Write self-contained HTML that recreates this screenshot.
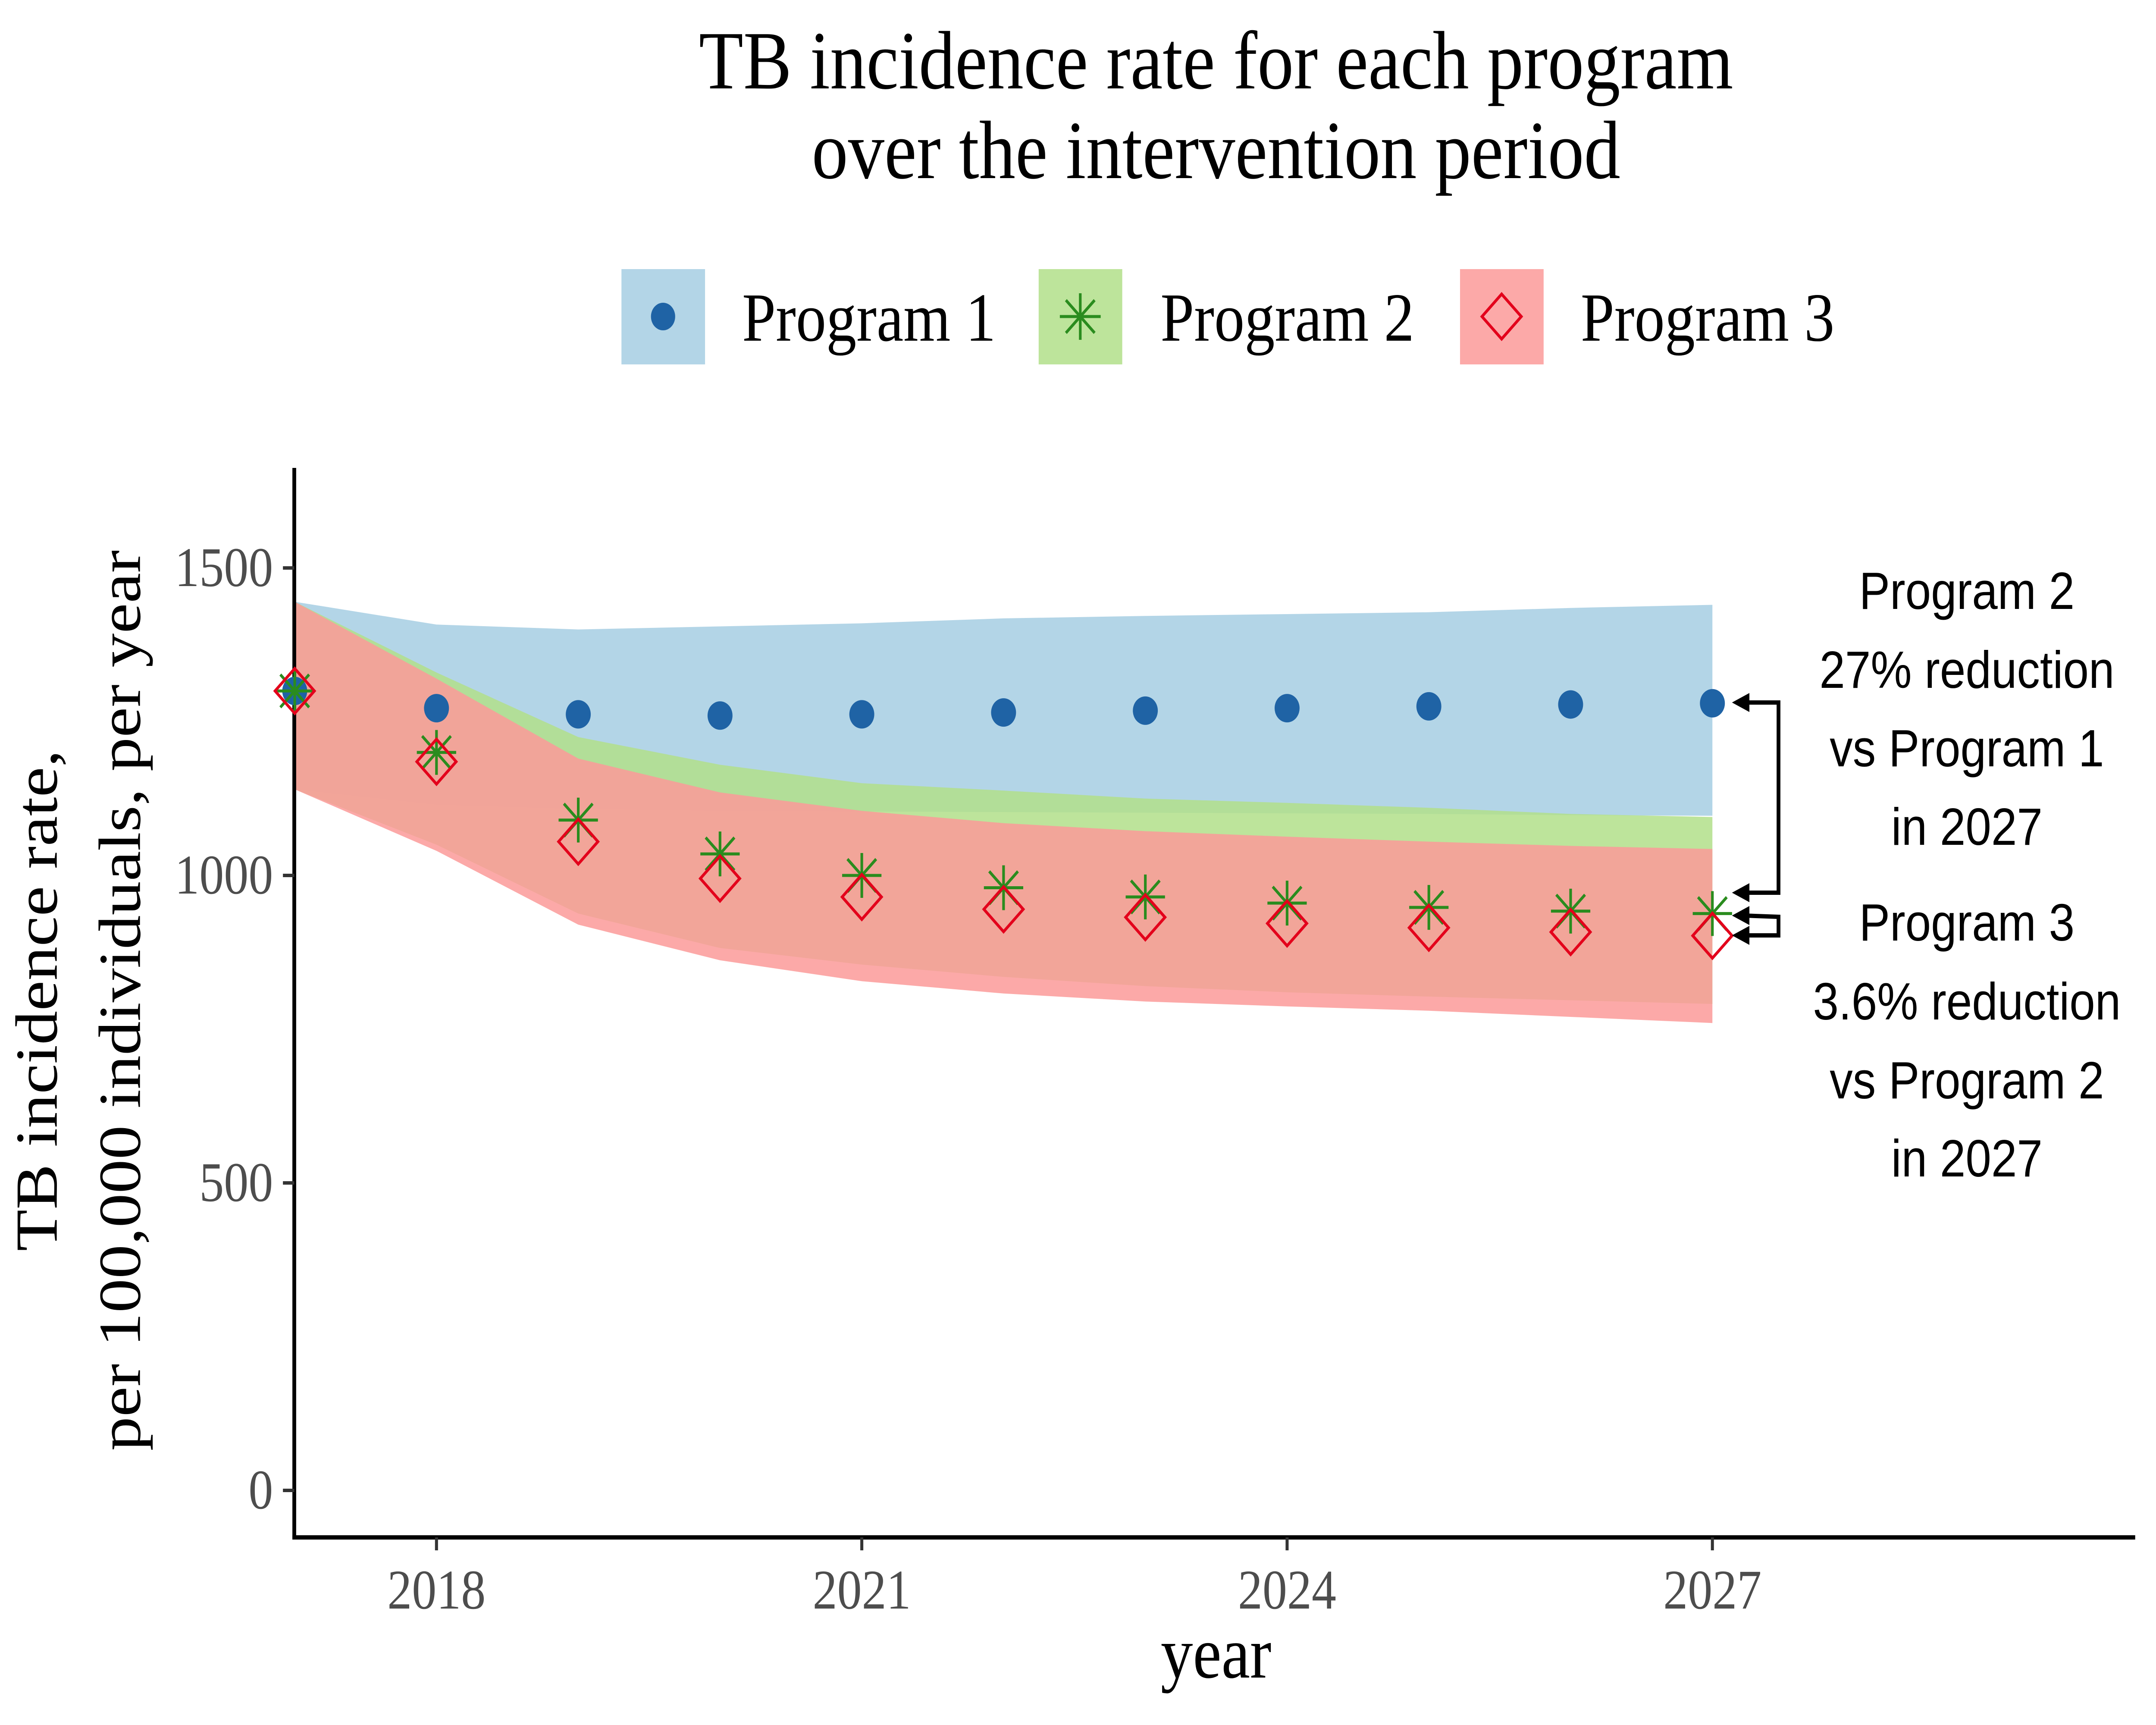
<!DOCTYPE html>
<html><head><meta charset="utf-8"><style>html,body{margin:0;padding:0;background:#fff;overflow:hidden;width:100%;height:100%}svg{display:block;width:100vw;height:100vh}</style></head>
<body>
<svg id="chart" viewBox="0 0 5700 4000" preserveAspectRatio="none" xmlns="http://www.w3.org/2000/svg">
<rect width="5700" height="4000" fill="#fff"/>
<g font-family="Liberation Serif, serif" font-size="192" text-anchor="middle" fill="#000">
<text x="3215" y="205">TB incidence rate for each program</text>
<text x="3215" y="413">over the intervention period</text>
</g>
<g font-family="Liberation Serif, serif" font-size="160" fill="#000">
<g>
<rect x="1640" y="621" width="227" height="227" fill="#a6cee3" fill-opacity="0.85" stroke="#fff" stroke-width="6"/>
<circle cx="1753" cy="734" r="32" fill="#1f63a5"/>
<text x="1962" y="790">Program 1</text></g>
<g>
<rect x="2743" y="621" width="227" height="227" fill="#b2df8a" fill-opacity="0.85" stroke="#fff" stroke-width="6"/>
<g stroke="#2a8c1e" stroke-width="7"><line x1="2856" y1="680" x2="2856" y2="788"/><line x1="2802" y1="734" x2="2910" y2="734"/><line x1="2818" y1="696" x2="2894" y2="772"/><line x1="2818" y1="772" x2="2894" y2="696"/></g>
<text x="3068" y="790">Program 2</text></g>
<g>
<rect x="3857" y="621" width="227" height="227" fill="#fb9a99" fill-opacity="0.85" stroke="#fff" stroke-width="6"/>
<polygon points="3970,682 4022,734 3970,786 3918,734" fill="none" stroke="#e3001b" stroke-width="7"/>
<text x="4179" y="790">Program 3</text></g>
</g>
<g id="plot"></g>
<g font-family="Liberation Sans, sans-serif" font-size="122" text-anchor="middle" fill="#000">
<g>
<text x="5200" y="1412">Program 2</text><text x="5200" y="1595">27% reduction</text><text x="5200" y="1777">vs Program 1</text><text x="5200" y="1959">in 2027</text></g>
<g>
<text x="5200" y="2181">Program 3</text><text x="5200" y="2364">3.6% reduction</text><text x="5200" y="2547">vs Program 2</text><text x="5200" y="2728">in 2027</text></g>
</g>
<g stroke="#000" stroke-width="10" fill="none">
<polyline points="4610,1629 4702,1629 4702,2070 4610,2070"/>
<polyline points="4610,2123 4702,2126 4702,2169 4610,2169"/>
<g fill="#000" stroke="none">
<polygon points="4579,1629 4625,1607 4625,1651"/><polygon points="4579,2070 4625,2048 4625,2092"/>
<polygon points="4579,2123 4625,2101 4625,2145"/><polygon points="4579,2169 4625,2147 4625,2191"/>
</g></g>
<g font-family="Liberation Serif, serif" font-size="158" text-anchor="middle" fill="#000">
<text transform="translate(150,2320) rotate(-90)">TB incidence rate,</text>
<text transform="translate(370,2320) rotate(-90)">per 100,000 individuals, per year</text>
</g>
<text x="3215" y="3890" font-family="Liberation Serif, serif" font-size="170" text-anchor="middle">year</text>
</svg>
<script>
const years=[2017,2018,2019,2020,2021,2022,2023,2024,2025,2026,2027];
const p1=[1300,1272,1262,1260,1262,1265,1268,1272,1275,1278,1280];
const p1Hi=[1445,1408,1400,1405,1410,1418,1422,1425,1428,1435,1440];
const p1Lo=[1140,1115,1108,1105,1104,1103,1102,1101,1100,1098,1097];
const p2=[1300,1200,1090,1035,1000,980,965,955,948,942,938];
const p2Hi=[1445,1330,1225,1180,1150,1138,1125,1118,1110,1100,1095];
const p2Lo=[1140,1050,938,882,855,835,820,810,803,797,791];
const p3=[1300,1185,1055,995,965,945,932,922,915,908,902];
const p3Hi=[1445,1320,1190,1135,1105,1085,1072,1063,1055,1048,1043];
const p3Lo=[1140,1040,920,862,828,808,795,787,780,770,760];
const yTicks=[0,500,1000,1500];
const xTicks=[2018,2021,2024,2027];
const NS="http://www.w3.org/2000/svg";
const X=v=>1154+(v-2018)*374.8;
const Y=v=>3456-v*1.426;
const plot=document.getElementById('plot');
function mk(t,a,parent){const e=document.createElementNS(NS,t);for(const k in a)e.setAttribute(k,a[k]);(parent||plot).appendChild(e);return e;}
function band(hi,lo,color,name){
 let pts=years.map((y,i)=>X(y)+','+Y(hi[i]));
 for(let i=years.length-1;i>=0;i--)pts.push(X(years[i])+','+Y(lo[i]));
 const p=mk('polygon',{points:pts.join(' '),fill:color,'fill-opacity':0.85});
 
 
}
band(p1Hi,p1Lo,'#a6cee3','program-1-band');
band(p2Hi,p2Lo,'#b2df8a','program-2-band');
band(p3Hi,p3Lo,'#fb9a99','program-3-band');
const ax=mk('g',{stroke:'#000','stroke-width':10});


mk('line',{x1:778,y1:1085,x2:778,y2:3570},ax);
mk('line',{x1:773,y1:3565,x2:5645,y2:3565},ax);
yTicks.forEach(v=>{
 const t=mk('line',{x1:748,y1:Y(v),x2:778,y2:Y(v),stroke:'#333','stroke-width':8});
 
 
 const l=mk('text',{x:722,y:Y(v)+42,'text-anchor':'end','font-family':'Liberation Serif, serif','font-size':130,fill:'#4d4d4d'});
 l.textContent=v;
 
 
});
xTicks.forEach(v=>{
 const t=mk('line',{x1:X(v),y1:3565,x2:X(v),y2:3595,stroke:'#333','stroke-width':8});
 
 
 const l=mk('text',{x:X(v),y:3730,'text-anchor':'middle','font-family':'Liberation Serif, serif','font-size':130,fill:'#4d4d4d'});
 l.textContent=v;
 
 
});
years.forEach((y,i)=>{
 const c=mk('circle',{cx:X(y),cy:Y(p1[i]),r:33,fill:'#1f63a5'});
 
 
});
years.forEach((y,i)=>{
 const x=X(y),yy=Y(p2[i]),s=52,d=38;
 const g=mk('g',{stroke:'#2a8c1e','stroke-width':7});
 
 
 mk('line',{x1:x,y1:yy-s,x2:x,y2:yy+s},g);
 mk('line',{x1:x-s,y1:yy,x2:x+s,y2:yy},g);
 mk('line',{x1:x-d,y1:yy-d,x2:x+d,y2:yy+d},g);
 mk('line',{x1:x-d,y1:yy+d,x2:x+d,y2:yy-d},g);
});
years.forEach((y,i)=>{
 const x=X(y),yy=Y(p3[i]),s=52;
 const d=mk('polygon',{points:`${x},${yy-s} ${x+s},${yy} ${x},${yy+s} ${x-s},${yy}`,fill:'none',stroke:'#e3001b','stroke-width':7});
 
 
});
</script>
</body></html>
